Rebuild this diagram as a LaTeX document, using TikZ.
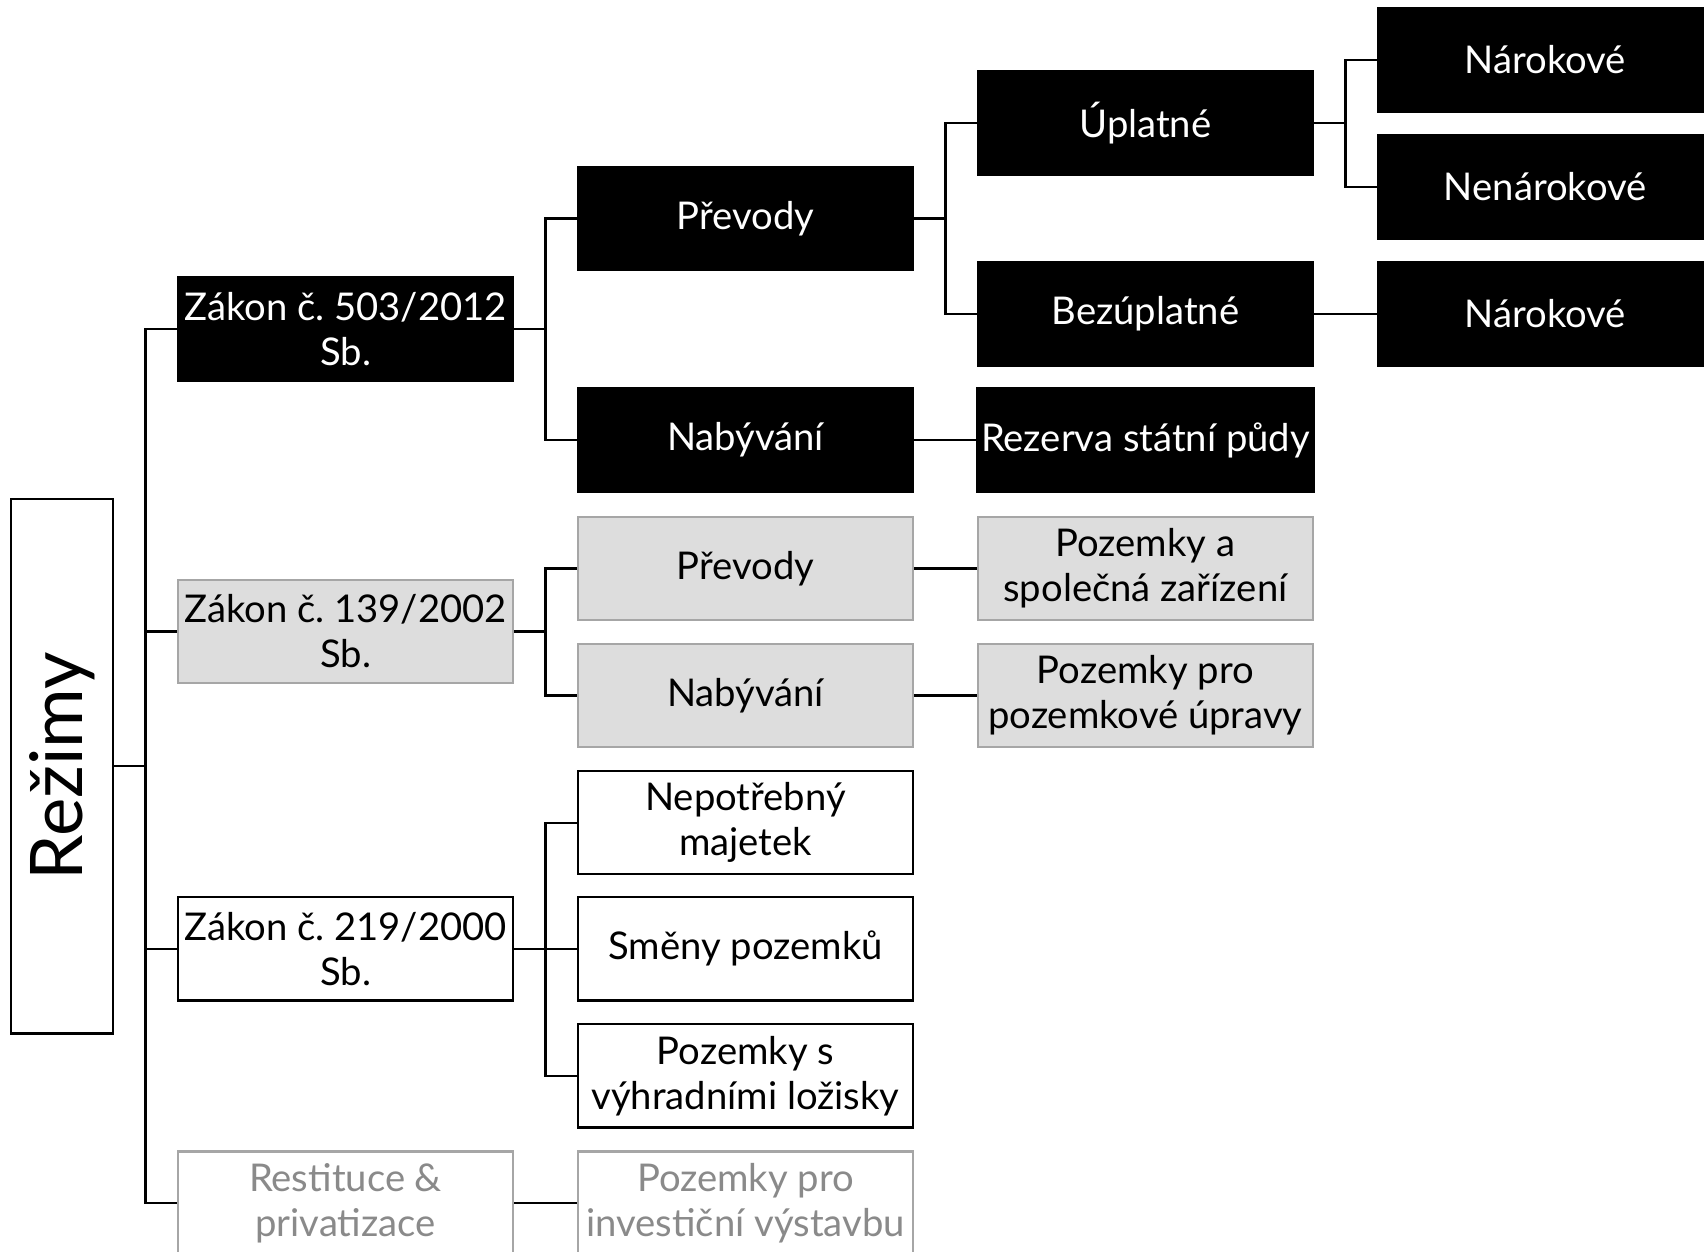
\documentclass[tikz,border=0pt]{standalone}
\usepackage{fontspec}
\setmainfont{Lato}
\frenchspacing
\definecolor{boxgray}{HTML}{DDDDDD}
\definecolor{linegray}{HTML}{A6A6A6}
\definecolor{textgray}{HTML}{8A8A8A}
\tikzset{
  box/.style={rectangle, minimum width=3.08cm, minimum height=0.95cm, inner sep=1pt,
    align=center, font=\fontsize{10}{11.8}\selectfont, line width=0.6pt},
  blackbox/.style={box, fill=black, draw=black, text=white},
  graybox/.style={box, fill=boxgray, draw=linegray, text=black},
  whitebox/.style={box, fill=white, draw=black, text=black},
  fadedbox/.style={box, fill=white, draw=linegray, text=textgray},
  link/.style={draw=black, line width=0.6pt}
}
\begin{document}
\begin{tikzpicture}[x=0.01cm,y=-0.01cm]
\useasboundingbox (0,0) rectangle (1568,1152);
% root
\node[whitebox, minimum width=0.94cm, minimum height=4.92cm] (rez) at (57,705)
  {\rotatebox{90}{\fontsize{19}{22}\selectfont Režimy}};
% laws
\node[blackbox] (z503) at (318,303) {Zákon č. 503/2012\\Sb.};
\node[graybox]  (z139) at (318,581) {Zákon č. 139/2002\\Sb.};
\node[whitebox] (z219) at (318,873) {Zákon č. 219/2000\\Sb.};
\node[fadedbox] (rest) at (318,1107) {Restituce \&\\privatizace};
% second level
\node[blackbox] (prev1) at (686,201) {Převody};
\node[blackbox] (nab1)  at (686,405) {Nabývání};
\node[graybox]  (prev2) at (686,523) {Převody};
\node[graybox]  (nab2)  at (686,640) {Nabývání};
\node[whitebox] (nep)   at (686,757) {Nepotřebný\\majetek};
\node[whitebox] (smen)  at (686,873) {Směny pozemků};
\node[whitebox] (loz)   at (686,990) {Pozemky s\\výhradními ložisky};
\node[fadedbox] (inv)   at (686,1107) {Pozemky pro\\investiční výstavbu};
% third level
\node[blackbox] (upl)   at (1054,113) {Úplatné};
\node[blackbox] (bezu)  at (1054,289) {Bezúplatné};
\node[blackbox] (rezv)  at (1054,405) {Rezerva státní půdy};
\node[graybox]  (spol)  at (1054,523) {Pozemky a\\společná zařízení};
\node[graybox]  (upr)   at (1054,640) {Pozemky pro\\pozemkové úpravy};
% fourth level
\node[blackbox] (nar1)  at (1422,55)  {Nárokové};
\node[blackbox] (nenar) at (1422,172) {Nenárokové};
\node[blackbox] (nar2)  at (1422,289) {Nárokové};
% bus points
\coordinate (b0) at (134,705);
\coordinate (b1) at (502,303);
\coordinate (b2) at (502,581);
\coordinate (b3) at (502,873);
\coordinate (b4) at (870,201);
\coordinate (b5) at (1238,113);
% connectors
\draw[link] (rez.east) -- (b0);
\draw[link] (b0) |- (z503.west);
\draw[link] (b0) |- (z139.west);
\draw[link] (b0) |- (z219.west);
\draw[link] (b0) |- (rest.west);
\draw[link] (z503.east) -- (b1);
\draw[link] (b1) |- (prev1.west);
\draw[link] (b1) |- (nab1.west);
\draw[link] (z139.east) -- (b2);
\draw[link] (b2) |- (prev2.west);
\draw[link] (b2) |- (nab2.west);
\draw[link] (z219.east) -- (b3);
\draw[link] (b3) |- (nep.west);
\draw[link] (b3) |- (loz.west);
\draw[link] (b3) -- (smen.west);
\draw[link] (rest.east) -- (inv.west);
\draw[link] (prev1.east) -- (b4);
\draw[link] (b4) |- (upl.west);
\draw[link] (b4) |- (bezu.west);
\draw[link] (nab1.east) -- (rezv.west);
\draw[link] (prev2.east) -- (spol.west);
\draw[link] (nab2.east) -- (upr.west);
\draw[link] (upl.east) -- (b5);
\draw[link] (b5) |- (nar1.west);
\draw[link] (b5) |- (nenar.west);
\draw[link] (bezu.east) -- (nar2.west);
\end{tikzpicture}
\end{document}
